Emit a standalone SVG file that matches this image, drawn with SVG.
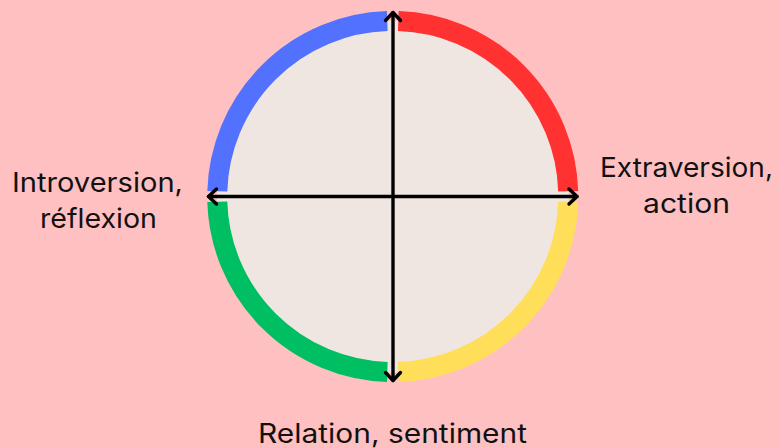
<svg xmlns="http://www.w3.org/2000/svg" width="779" height="448" viewBox="0 0 779 448">
<defs>
<style>
.arc{fill:none;stroke-width:20;stroke-linecap:butt}
.ax{fill:none;stroke:#000;stroke-width:3.4;stroke-linecap:round;stroke-linejoin:round}
.lbl{font-family:Inter,"Open Sans",sans-serif;font-size:26.5px;fill:#111;text-anchor:middle}
</style>
</defs>
<rect width="779" height="448" fill="#FFC0C1"/>
<g id="circle">
<circle cx="392.8" cy="196.5" r="176" fill="#F0E6E1"/>
<path class="arc" stroke="#5271FF" d="M217.3 191.3 A175.5 175.5 0 0 1 387.3 21.1"/>
<path class="arc" stroke="#FF3131" d="M398.3 21.1 A175.5 175.5 0 0 1 568.2 191.3"/>
<path class="arc" stroke="#FFDE59" d="M568.2 201.7 A175.5 175.5 0 0 1 398.3 371.9"/>
<path class="arc" stroke="#00BF63" d="M387.3 371.9 A175.5 175.5 0 0 1 217.3 201.7"/>
</g>
<g id="connectors">
<line class="ax" x1="393" y1="12.5" x2="393" y2="380.5"/>
<polyline class="ax" points="385.5,20.5 393,12.5 400.5,20.5"/>
<polyline class="ax" points="385.5,372.5 393,380.5 400.5,372.5"/>
<line class="ax" x1="208.5" y1="196.5" x2="577" y2="196.5"/>
<polyline class="ax" points="216.5,189 208.5,196.5 216.5,204"/>
<polyline class="ax" points="569,189 577,196.5 569,204"/>
</g>
<g id="label-left">
<text class="lbl" x="97.5" y="192" textLength="171" lengthAdjust="spacingAndGlyphs">Introversion,</text>
<text class="lbl" x="98.5" y="228" textLength="117" lengthAdjust="spacingAndGlyphs">réflexion</text>
</g>
<g id="label-right">
<text class="lbl" x="686.5" y="177" textLength="173" lengthAdjust="spacingAndGlyphs">Extraversion,</text>
<text class="lbl" x="686.5" y="213" textLength="87" lengthAdjust="spacingAndGlyphs">action</text>
</g>
<g id="label-bottom">
<text class="lbl" x="392.5" y="443" textLength="269" lengthAdjust="spacingAndGlyphs">Relation, sentiment</text>
</g>
</svg>
